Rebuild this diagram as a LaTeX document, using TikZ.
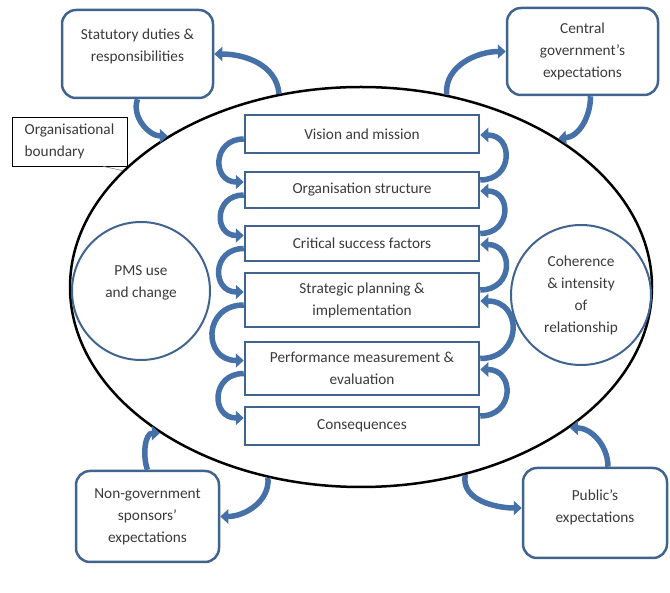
\documentclass[tikz,border=0pt]{standalone}
\usepackage{fontspec}
\setmainfont{Carlito}
\usetikzlibrary{shapes.geometric,arrows.meta}
\definecolor{boxblue}{HTML}{41648F}
\definecolor{flowblue}{HTML}{4671A8}
\definecolor{inktext}{HTML}{3A3A3A}
\begin{document}
\begin{tikzpicture}[x=1pt, y=-1pt,
  every node/.style={font=\fontsize{15.3}{22}\selectfont, text=inktext, align=center},
  stage/.style={draw=boxblue, line width=2.5pt, minimum width=234pt, inner sep=2pt},
  actor/.style={draw=boxblue, line width=2.5pt, rounded corners=14pt, inner sep=2pt},
  ring/.style={draw=boxblue, line width=2pt, circle, inner sep=0pt},
  flow/.style={draw=flowblue, line width=5.5pt, -{Triangle[width=14pt,length=8pt]}}]
  \useasboundingbox (0,0) rectangle (670,593);
  % Organisation (outer ellipse) and its boundary label
  \node[draw=black, line width=2.5pt, ellipse, minimum width=582pt, minimum height=400pt, inner sep=0pt] (org) at (361,287) {};
  \node[draw=black, line width=0.8pt, minimum width=115pt, minimum height=49pt, align=left, inner sep=3pt] (bnd) at (69.5,141.5) {Organisational\\boundary};
  \draw[gray, line width=0.6pt] ([xshift=-24pt]bnd.south east) -- (org.154);
  % Stages inside the organisation
  \node[stage, minimum height=38pt] (vis) at (362,134)   {Vision and mission};
  \node[stage, minimum height=36pt] (str) at (362,190)   {Organisation structure};
  \node[stage, minimum height=35pt] (csf) at (362,243.5) {Critical success factors};
  \node[stage, minimum height=54pt] (spi) at (362,300)   {Strategic planning \&\\implementation};
  \node[stage, minimum height=53pt] (pme) at (362,368.5) {Performance measurement \&\\evaluation};
  \node[stage, minimum height=38pt] (con) at (362,426)   {Consequences};
  % Side circles
  \node[ring, minimum size=138pt, text depth=18pt] (pms) at (141,291) {PMS use\\and change};
  \node[ring, minimum size=140pt] (coh) at (581,295) {Coherence\\\& intensity\\of\\relationship};
  % Outside stakeholders
  \node[actor, minimum width=151pt, minimum height=88pt, text depth=17pt] (stat) at (137.5,54) {Statutory duties \&\\responsibilities};
  \node[actor, minimum width=151pt, minimum height=87pt] (cent) at (582.5,51.5) {Central\\government’s\\expectations};
  \node[actor, minimum width=143pt, minimum height=91pt] (ngov) at (147.5,516.5) {Non-government\\sponsors’\\expectations};
  \node[actor, minimum width=144pt, minimum height=90pt, text depth=14pt] (pub) at (595,513) {Public’s\\expectations};
  % Feedback loops between the stages
  \foreach \a/\b in {vis/str, str/csf, csf/spi, spi/pme, pme/con} {
    \draw[flow] ([yshift=-5pt]\a.west) to[out=180, in=180, looseness=1.9] ([yshift=8pt]\b.west);
    \draw[flow] ([yshift=10pt]\b.east) to[out=0, in=0, looseness=1.9] ([yshift=-1pt]\a.east);
  }
  % Links across the boundary
  \draw[flow] (stat.south) to[out=-110, in=180] (org.142);
  \draw[flow] (org.113) to[out=95, in=0] (stat.east);
  \draw[flow] (org.66) to[out=95, in=180] (cent.west);
  \draw[flow] ([xshift=8pt]cent.south) to[out=-90, in=5] (org.37);
  \draw[flow] (ngov.north) to[out=110, in=180] (org.216);
  \draw[flow] (org.244) to[out=-85, in=0] (ngov.east);
  \draw[flow] ([xshift=13pt]pub.north) to[out=90, in=0] (org.326);
  \draw[flow] (org.299) to[out=-100, in=180] ([yshift=5pt]pub.west);
\end{tikzpicture}
\end{document}
